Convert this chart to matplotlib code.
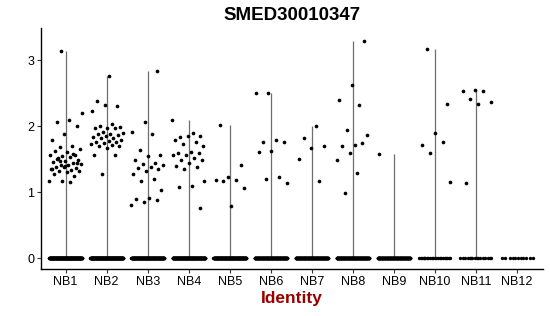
import numpy as np
import matplotlib.pyplot as plt

plt.rcParams['font.family'] = ['Liberation Sans', 'DejaVu Sans']

groups = ["NB1", "NB2", "NB3", "NB4", "NB5", "NB6",
          "NB7", "NB8", "NB9", "NB10", "NB11", "NB12"]

# expression values above zero
nb1 = [3.14, 2.20, 2.09, 2.07, 2.00, 1.88, 1.80, 1.71, 1.69, 1.65, 1.61, 1.63,
       1.57, 1.55, 1.56, 1.54, 1.52, 1.49, 1.47, 1.46, 1.44, 1.42, 1.43, 1.41,
       1.38, 1.37, 1.38, 1.36, 1.34, 1.33, 1.32, 1.31, 1.28, 1.25, 1.17, 1.17,
       1.16, 1.50, 1.45, 1.40, 1.35, 1.58, 1.48]
nb2 = [2.76, 2.39, 2.31, 2.33, 2.24, 2.03, 2.01, 1.99, 1.98, 1.97, 1.98, 1.92,
       1.90, 1.89, 1.88, 1.87, 1.86, 1.84, 1.83, 1.82, 1.79, 1.78, 1.77, 1.76,
       1.75, 1.73, 1.72, 1.71, 1.70, 1.68, 1.57, 1.56, 1.28]
nb3 = [2.84, 2.07, 1.92, 1.89, 1.64, 1.56, 1.55, 1.49, 1.44, 1.43, 1.42, 1.38,
       1.37, 1.35, 1.32, 1.28, 1.21, 1.17, 1.04, 0.91, 0.90, 0.88, 0.86, 0.81]
nb4 = [2.09, 1.90, 1.84, 1.85, 1.86, 1.80, 1.77, 1.73, 1.71, 1.61, 1.60, 1.60,
       1.57, 1.57, 1.52, 1.49, 1.49, 1.45, 1.40, 1.38, 1.35, 1.18, 1.09, 1.08,
       0.76]
nb5 = [2.02, 1.41, 1.23, 1.19, 1.19, 1.17, 1.07, 0.79]
nb6 = [2.50, 2.50, 1.79, 1.77, 1.77, 1.63, 1.61, 1.24, 1.20, 1.15]
nb7 = [2.00, 1.82, 1.70, 1.68, 1.50, 1.17]
nb8 = [3.30, 2.63, 2.40, 2.32, 1.95, 1.87, 1.72, 1.71, 1.75, 1.60, 1.49, 1.29,
       0.99]
nb9 = [1.58]
nb10 = [3.17, 2.34, 1.90, 1.72, 1.77, 1.60, 1.16]
nb11 = [2.55, 2.53, 2.54, 2.42, 2.37, 2.34, 1.15]
nb12 = []
positive = [nb1, nb2, nb3, nb4, nb5, nb6, nb7, nb8, nb9, nb10, nb11, nb12]

# number of cells with zero expression
zero_counts = [300, 300, 260, 260, 260, 220, 220, 220, 200, 22, 16, 11]

title = "SMED30010347"
xlabel = "Identity"


def spread(n, width=0.4, start=0.0):
    # deterministic jitter (golden ratio sequence)
    k = np.arange(n)
    return ((start + k * 0.6180339887) % 1.0 - 0.5) * 2 * width


fig = plt.figure(figsize=(5.5, 3.16), dpi=100)
ax = fig.add_axes([41 / 550, 47 / 316, 502 / 550, 241 / 316])

pos = np.arange(1, len(groups) + 1)
for i, (p, vals) in enumerate(zip(pos, positive)):
    vals = np.array(vals)
    if len(vals):
        ax.vlines(p, 0, vals.max(), color="#6e6e6e", lw=0.9, zorder=1)
    nz = zero_counts[i]
    ax.scatter(p + spread(nz, start=0.13 * i), np.zeros(nz), s=6,
               color="black", lw=0, zorder=2)
    if len(vals):
        ax.scatter(p + spread(len(vals), start=0.37 + 0.21 * i), vals, s=7,
                   color="black", lw=0, zorder=3)

ax.set_xlim(0.4, 12.63)
ax.set_ylim(-0.16, 3.49)
ax.set_xticks(pos)
ax.set_xticklabels(groups)
ax.set_yticks([0, 1, 2, 3])
ax.tick_params(labelsize=9, length=3, width=0.8, color="#333333", pad=2)
for side in ["top", "right"]:
    ax.spines[side].set_visible(False)
for side in ["left", "bottom"]:
    ax.spines[side].set_linewidth(1.0)

ax.set_xlabel(xlabel, fontsize=12.5, fontweight="bold", color="#990000",
              labelpad=2)
fig.text(292 / 550, 1 - 16 / 316, title, ha="center", va="center",
         fontsize=13.5, fontweight="bold")

fig.savefig("out.png", dpi=100)
